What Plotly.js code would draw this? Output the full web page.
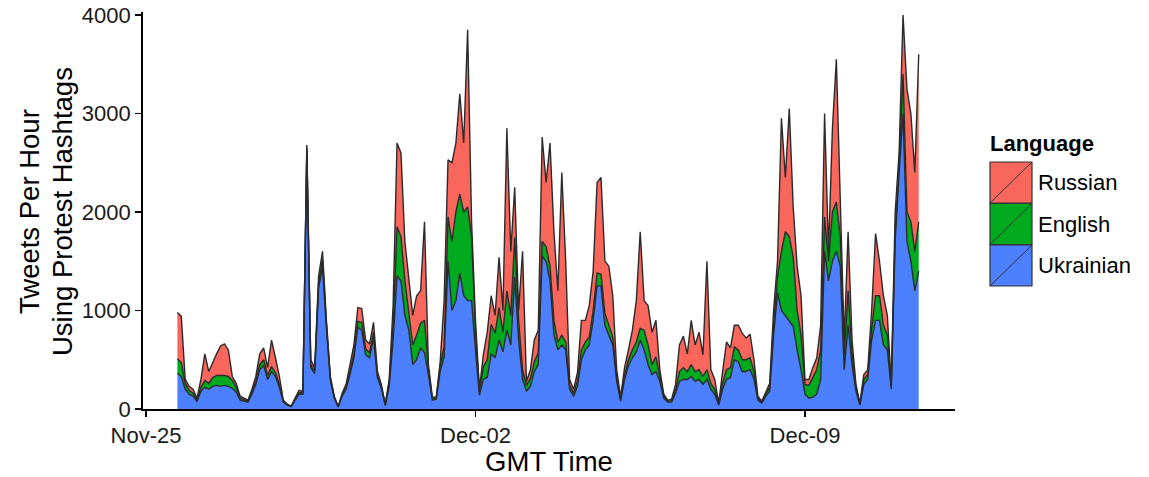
<!DOCTYPE html>
<html>
<head>
<meta charset="utf-8">
<script src="https://cdn.plot.ly/plotly-3.0.1.min.js"></script>
<style>html,body{margin:0;padding:0;background:#fff;}#chart{width:1149px;height:477px;}</style>
</head>
<body>
<div id="chart"></div>
<script>
// Hourly-bucketed counts (sampled every 2 hours), GMT, starting 2013-11-25 16:00
const startTime = '2013-11-25T16:00:00Z';
const stepHours = 2;

const ukrainian = [
 360,330,200,150,130,75,180,220,200,230,240,230,240,230,210,170,90,80,70,150,
 250,400,440,300,380,330,220,70,40,25,90,150,150,2620,420,360,1230,1440,820,290,
 110,20,130,200,350,520,830,800,550,520,720,320,210,35,230,700,1350,1300,950,800,
 450,500,620,570,350,90,100,380,530,1500,1000,1100,1380,1150,1100,1100,600,140,300,320,
 560,520,700,580,800,650,1340,700,300,180,230,380,450,1550,1500,1300,750,600,650,600,
 200,130,230,500,600,650,900,1250,1250,850,750,650,280,80,300,440,520,580,700,600,
 450,350,380,280,110,70,70,160,280,300,300,330,280,300,250,300,200,150,40,200,
 300,320,500,480,380,380,400,300,90,60,130,180,750,1180,1000,950,900,840,600,400,
 150,110,120,150,300,1600,1300,1500,1600,1450,400,850,450,180,40,250,300,700,900,900,
 650,600,200,1700,2400,3000,1700,1500,1200,1400
];
const english = [
 150,140,60,40,30,15,40,70,60,90,100,110,100,100,80,50,20,15,10,20,
 30,50,60,40,50,40,30,10,5,3,10,15,15,30,30,25,50,80,40,20,
 10,3,15,20,30,50,60,80,60,50,60,20,15,10,40,150,500,450,350,180,
 200,250,250,330,60,20,15,60,100,450,700,900,800,850,950,650,200,40,130,180,
 300,250,330,200,400,300,400,200,100,60,80,100,120,150,150,150,150,80,100,80,
 40,30,60,100,80,80,100,130,120,120,100,80,40,20,40,60,80,100,120,200,
 200,100,150,40,20,10,15,30,100,120,80,120,100,100,80,100,60,50,10,60,
 100,100,130,120,120,120,120,80,20,10,25,40,100,160,600,850,850,700,400,350,
 100,130,200,250,300,350,200,500,500,300,150,350,120,40,10,50,50,120,250,250,
 200,150,30,100,100,400,300,400,400,500
];
const russian = [
 470,470,40,40,40,20,80,270,120,160,220,300,320,270,40,40,20,15,10,30,
 50,110,120,80,270,150,80,10,5,2,10,25,15,30,50,35,70,80,40,20,
 10,2,15,30,70,80,140,140,90,90,100,40,25,5,30,200,850,850,400,370,
 300,400,330,1000,40,10,5,40,470,580,800,700,1020,700,1800,150,100,20,120,280,
 290,180,510,220,1650,650,510,100,1200,40,90,220,230,1060,650,1250,900,520,1650,820,
 60,40,80,300,220,320,400,920,980,530,600,420,80,20,80,100,200,420,980,300,
 400,330,370,80,20,10,15,60,270,320,180,450,270,380,220,1100,140,100,10,120,
 280,200,220,250,270,220,240,120,20,10,25,40,150,160,1350,550,1300,510,450,400,
 50,60,100,120,250,1050,100,850,1450,350,150,600,130,30,10,50,50,180,630,350,
 300,200,20,200,100,600,1250,1100,800,1700
];

const xTickVals = ['2013-11-25', '2013-12-02', '2013-12-09'];
const xTickText = ['Nov-25', 'Dec-02', 'Dec-09'];
const yTickVals = [0, 1000, 2000, 3000, 4000];
const seriesNames = ['Ukrainian', 'English', 'Russian'];
const legendOrder = ['Russian', 'English', 'Ukrainian'];
const yTitleLines = ['Tweets Per Hour', 'Using Protest Hashtags'];

const colors = {Ukrainian: '#4D80FF', English: '#00AA1F', Russian: '#F8665C'};

const t0 = Date.parse(startTime);
const times = ukrainian.map((_, i) => new Date(t0 + i * stepHours * 3600000).toISOString());

const seriesData = {Ukrainian: ukrainian, English: english, Russian: russian};
const traces = seriesNames.map(name => ({
  type: 'scatter', mode: 'lines', x: times, y: seriesData[name], name: name,
  stackgroup: 'one', fillcolor: colors[name],
  line: {color: '#2b2b2b', width: 1.4},
  hoverinfo: 'skip', showlegend: false
}));

// plot-area geometry in pixels
const L = 143, R = 955, T = 12, B = 409;
const px = x => (x - L) / (R - L);
const py = y => (B - y) / (B - T);

const shapes = [];
const annotations = [];
const boxTop = [162, 203.5, 245];
const boxH = 41;
legendOrder.forEach((name, i) => {
  const y0 = boxTop[i], y1 = boxTop[i] + boxH;
  shapes.push({type: 'rect', xref: 'paper', yref: 'paper', x0: px(990), x1: px(1032), y0: py(y1), y1: py(y0),
    fillcolor: colors[name], line: {color: '#333333', width: 1.2}});
  shapes.push({type: 'line', xref: 'paper', yref: 'paper', x0: px(990), x1: px(1032), y0: py(y1), y1: py(y0),
    line: {color: '#333333', width: 1}});
  annotations.push({xref: 'paper', yref: 'paper', x: px(1036), y: py((y0 + y1) / 2), text: name,
    showarrow: false, xanchor: 'left', yanchor: 'middle', font: {size: 22, color: '#000'}});
});
annotations.push({xref: 'paper', yref: 'paper', x: px(988), y: py(143), text: '<b>Language</b>',
  showarrow: false, xanchor: 'left', yanchor: 'middle', font: {size: 22, color: '#000'}});

// y-axis title as two rotated lines
const yTitleX = [29, 62];
yTitleLines.forEach((txt, i) => {
  annotations.push({xref: 'paper', yref: 'paper', x: px(yTitleX[i]), y: py(212), text: txt,
    textangle: -90, showarrow: false, xanchor: 'center', yanchor: 'middle',
    font: {size: 27.5, color: '#000'}});
});

const layout = {
  width: 1149, height: 477,
  margin: {l: L, r: 1149 - R, t: T, b: 477 - B},
  paper_bgcolor: '#fff', plot_bgcolor: '#fff',
  font: {family: '"Liberation Sans", Arial, sans-serif', color: '#000'},
  showlegend: false,
  xaxis: {
    type: 'date',
    range: ['2013-11-24T22:28:00Z', '2013-12-12T04:30:00Z'],
    tickvals: xTickVals, ticktext: xTickText,
    showgrid: false, zeroline: false,
    showline: true, linecolor: '#000', linewidth: 1.8,
    ticks: 'outside', ticklen: 6, tickwidth: 1.8, tickcolor: '#000',
    tickfont: {size: 22, color: '#1a1a1a'},
    title: {text: 'GMT Time', font: {size: 27.5, color: '#000'}, standoff: 5}
  },
  yaxis: {
    range: [0, 4030],
    tickvals: yTickVals,
    showgrid: false, zeroline: false,
    showline: true, linecolor: '#000', linewidth: 1.8,
    ticks: 'outside', ticklen: 6, tickwidth: 1.8, tickcolor: '#000',
    tickfont: {size: 22, color: '#1a1a1a'}
  },
  shapes: shapes,
  annotations: annotations
};

Plotly.newPlot('chart', traces, layout, {displayModeBar: false, staticPlot: true});
</script>
</body>
</html>
